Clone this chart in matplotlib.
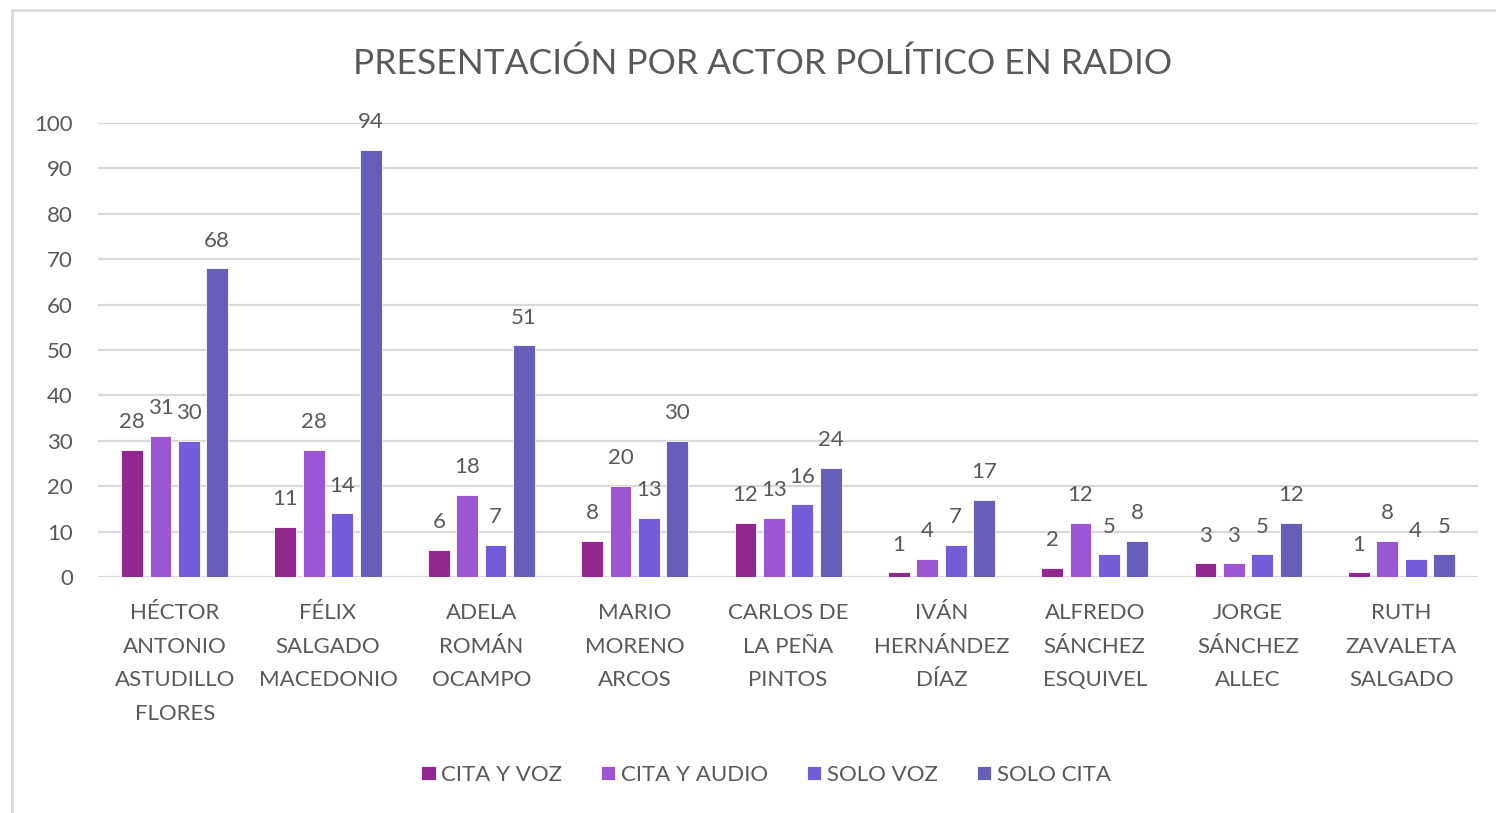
import numpy as np
import matplotlib.pyplot as plt
from matplotlib.lines import Line2D

plt.rcParams['font.family'] = ['Lato', 'DejaVu Sans']

actores = ['HÉCTOR\nANTONIO\nASTUDILLO\nFLORES', 'FÉLIX\nSALGADO\nMACEDONIO',
           'ADELA\nROMÁN\nOCAMPO', 'MARIO\nMORENO\nARCOS', 'CARLOS DE\nLA PEÑA\nPINTOS',
           'IVÁN\nHERNÁNDEZ\nDÍAZ', 'ALFREDO\nSÁNCHEZ\nESQUIVEL', 'JORGE\nSÁNCHEZ\nALLEC',
           'RUTH\nZAVALETA\nSALGADO']
series = ['CITA Y VOZ', 'CITA Y AUDIO', 'SOLO VOZ', 'SOLO CITA']
cita_y_voz = [28, 11, 6, 8, 12, 1, 2, 3, 1]
cita_y_audio = [31, 28, 18, 20, 13, 4, 12, 3, 8]
solo_voz = [30, 14, 7, 13, 16, 7, 5, 5, 4]
solo_cita = [68, 94, 51, 30, 24, 17, 8, 12, 5]
colores = ['#92278F', '#9B57D3', '#755DD9', '#665EB8']

text_color = '#595959'
grid_color = '#D9D9D9'

fig = plt.figure(figsize=(14.96, 8.13), dpi=100)
ax = fig.add_axes([0.0655, 0.2903, 0.9225, 0.5584])

x = np.arange(len(actores))
width = 0.143
step = 0.185
for i, (vals, color) in enumerate(zip([cita_y_voz, cita_y_audio, solo_voz, solo_cita], colores)):
    pos = x + (i - 1.5) * step
    bars = ax.bar(pos, vals, width, color=color, edgecolor='white', linewidth=0.6,
                  label=series[i], zorder=3)
    for b, v in zip(bars, vals):
        ax.annotate(str(v), (b.get_x() + b.get_width() / 2, v), xytext=(0, 20),
                    textcoords='offset points', ha='center', va='center',
                    fontsize=16, color=text_color)

ax.set_xlim(-0.5, len(actores) - 0.5)
ax.set_ylim(0, 100)
ax.set_yticks(np.arange(0, 101, 10))
ax.yaxis.grid(True, color=grid_color, linewidth=1.6, zorder=0)
ax.set_axisbelow(True)
for s in ax.spines.values():
    s.set_visible(False)
ax.tick_params(axis='both', length=0, labelsize=16, colors=text_color)
ax.tick_params(axis='y', pad=18)
ax.tick_params(axis='x', pad=19)
ax.set_xticks(x)
ax.set_xticklabels(actores, linespacing=1.84)

fig.text(0.5095, 0.922, 'PRESENTACIÓN POR ACTOR POLÍTICO EN RADIO', ha='center',
         va='center', fontsize=25.5, color=text_color)

leg = fig.legend(loc='center', bbox_to_anchor=(0.512, 0.047), ncol=4, frameon=False,
                 fontsize=16, handlelength=0.65, handleheight=0.65, handletextpad=0.25,
                 columnspacing=1.75)
for t in leg.get_texts():
    t.set_color(text_color)

# outer chart border (left and top edges)
fig.add_artist(Line2D([12 / 1496, 12 / 1496], [0, 1 - 10 / 813], transform=fig.transFigure,
                      color=grid_color, linewidth=2))
fig.add_artist(Line2D([12 / 1496, 1], [1 - 10 / 813, 1 - 10 / 813], transform=fig.transFigure,
                      color=grid_color, linewidth=2))

fig.savefig('out.png', dpi=100)
